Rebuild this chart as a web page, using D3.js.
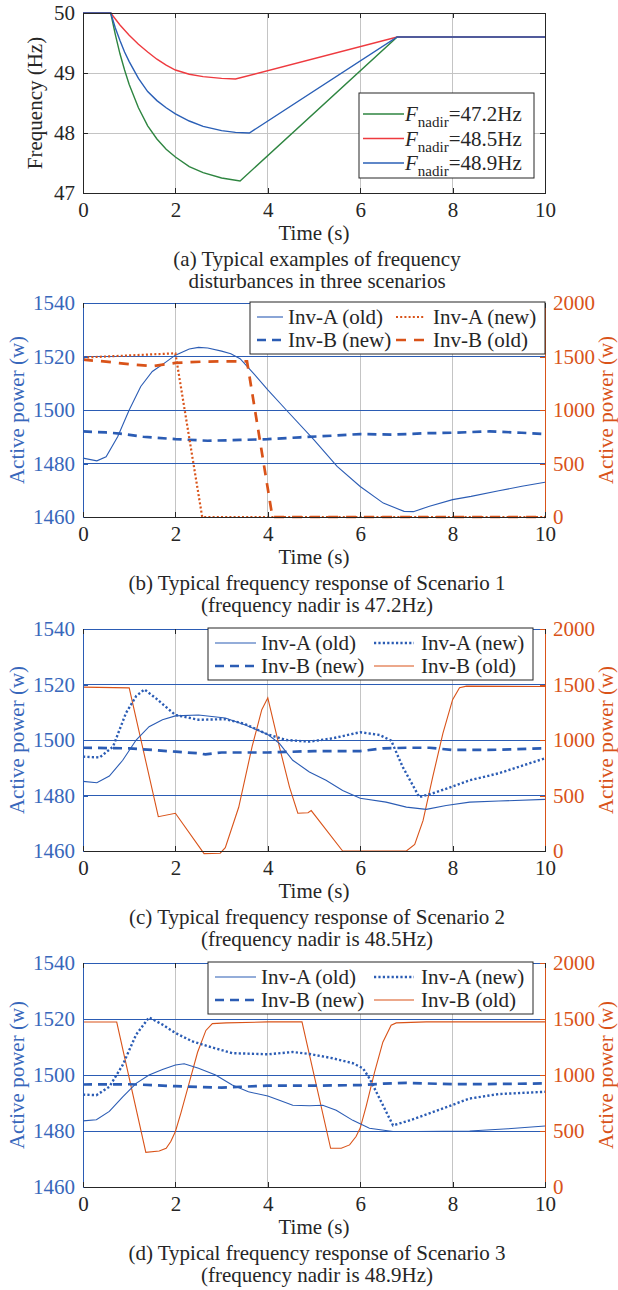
<!DOCTYPE html>
<html>
<head>
<meta charset="utf-8">
<script src="https://cdn.jsdelivr.net/npm/d3@7"></script>
<style>
  body { margin: 0; background: #fff; }
  svg text { font-family: "Times New Roman", "Liberation Serif", Tinos, Times, "DejaVu Serif", serif; }
  .grid, .domain, .tick line { shape-rendering: crispEdges; }
</style>
</head>
<body>
<div id="chart"></div>
<script>
// ---- data ----
const timeTicks = [0, 2, 4, 6, 8, 10];
const freqTicks = [47, 48, 49, 50];
const powerTicks = [1460, 1480, 1500, 1520, 1540];
const rightTicks = [0, 500, 1000, 1500, 2000];

// (a) frequency curves [t, Hz]
const fGreen = [[0,50],[0.6,50],[0.7,49.64],[0.8,49.32],[0.9,49.05],[1.0,48.81],[1.2,48.42],[1.4,48.12],[1.6,47.9],[1.8,47.73],[2.0,47.6],[2.3,47.44],[2.6,47.34],[3.0,47.25],[3.4,47.2],[6.8,49.6],[10,49.6]];
const fRed = [[0,50],[0.6,50],[0.7,49.9],[0.8,49.8],[1.0,49.63],[1.2,49.48],[1.4,49.35],[1.6,49.23],[1.8,49.13],[2.0,49.05],[2.3,48.98],[2.6,48.94],[3.0,48.91],[3.3,48.9],[6.8,49.6],[10,49.6]];
const fBlue = [[0,50],[0.6,50],[0.7,49.75],[0.8,49.54],[0.9,49.35],[1.0,49.19],[1.2,48.91],[1.4,48.69],[1.6,48.54],[1.8,48.42],[2.0,48.32],[2.3,48.2],[2.6,48.11],[3.0,48.04],[3.3,48.01],[3.6,48.0],[6.8,49.6],[10,49.6]];
const fLegend = ["=47.2Hz", "=48.5Hz", "=48.9Hz"];

// (b) scenario 1 [t, W]
const bInvAold = [[0,1482],[0.3,1481],[0.5,1482.5],[0.75,1490],[1.0,1500],[1.25,1508.8],[1.5,1514.4],[1.8,1518],[2.0,1520.5],[2.3,1522.8],[2.5,1523.4],[2.7,1523.2],[3.0,1522],[3.2,1521],[3.4,1519.2],[3.7,1513.5],[4.0,1507.5],[4.4,1500],[5.0,1488.8],[5.5,1478.9],[6.0,1471.4],[6.5,1465.2],[6.95,1462.1],[7.15,1462],[7.5,1464],[8.0,1466.5],[8.4,1467.7],[9.0,1469.8],[9.5,1471.5],[10,1473]];
const bInvBnew = [[0,1492],[0.5,1491.6],[0.8,1491.2],[1.3,1490],[2,1489.1],[2.7,1488.5],[3.4,1488.8],[4,1489.1],[4.7,1489.8],[5.4,1490.4],[6,1491],[6.7,1490.8],[7.4,1491.3],[8,1491.5],[8.8,1492],[9.5,1491.5],[10,1491]];
const bInvAnew = [[0,1490],[1,1510],[2,1530],[2.58,0],[10,0]];
const bInvBold = [[0,1470],[0.5,1452],[1,1428],[1.5,1410],[2,1440],[2.6,1452],[3,1455],[3.55,1455],[4.1,0],[10,0]];

// (c) scenario 2
const cInvAold = [[0,1485.1],[0.3,1484.6],[0.57,1487],[0.86,1492.7],[1.15,1500],[1.43,1504.8],[1.72,1507.3],[2,1508.7],[2.5,1509],[3.08,1507.9],[3.5,1505.5],[4,1502],[4.25,1498.8],[4.54,1492.7],[4.9,1488.5],[5.26,1485.5],[5.62,1481.8],[6,1479],[6.56,1477.6],[7,1475.8],[7.43,1475],[7.86,1476.4],[8.37,1477.6],[9,1478],[10,1478.6]];
const cInvAnew = [[0,1494],[0.36,1493.7],[0.65,1497.6],[0.93,1509.7],[1.15,1515.8],[1.33,1518.2],[1.58,1515],[2,1509],[2.5,1507.3],[3.08,1507.5],[3.5,1505.8],[4,1502],[4.4,1500],[4.9,1499.4],[5.4,1500.6],[6,1502.8],[6.42,1501.8],[6.67,1499.8],[6.92,1490.3],[7.28,1479.4],[7.65,1481.2],[8.37,1485.5],[9,1488],[10,1493.4]];
const cInvBnew = [[0,1497.2],[1,1497],[1.5,1496.4],[2,1495.8],[2.5,1495.2],[2.65,1494.8],[3,1495.5],[4,1495.5],[5,1496],[6,1496],[6.5,1497],[7,1497.2],[7.5,1497.2],[8,1496.4],[9,1496.5],[10,1497]];
const cInvBold = [[0,1476],[1.0,1470],[1.63,309],[2.0,340],[2.62,-24],[2.97,-20],[3.08,30],[3.37,394],[3.66,940],[3.87,1273],[4.0,1380],[4.25,940],[4.47,576],[4.65,340],[4.87,345],[4.94,364],[5.62,0],[7.0,0],[7.18,60],[7.36,273],[7.57,667],[7.79,1060],[8.0,1364],[8.15,1470],[8.3,1485],[10,1482]];

// (d) scenario 3
const dInvAold = [[0,1483.6],[0.29,1484],[0.57,1487],[0.86,1492.2],[1.15,1497],[1.43,1500],[1.72,1502],[2,1503.6],[2.19,1504],[2.5,1502.4],[2.87,1500],[3.23,1496.4],[3.58,1494],[4,1492.5],[4.25,1491],[4.54,1489.2],[4.9,1489],[5.19,1489.2],[5.48,1487.4],[5.84,1483.8],[6.2,1481],[6.71,1479.8],[7.22,1479.8],[8.37,1480],[9.2,1480.8],[10,1481.8]];
const dInvAnew = [[0,1493],[0.29,1492.8],[0.57,1495.8],[0.86,1503.6],[1.15,1514.4],[1.43,1520.6],[1.72,1518],[2,1515],[2.37,1512],[2.72,1510.2],[3.23,1507.8],[4,1507.4],[4.54,1508.2],[4.9,1507.5],[5.4,1506],[5.84,1504.2],[6.06,1502.4],[6.2,1498.8],[6.42,1491.6],[6.71,1482],[7.07,1483.8],[7.58,1486.8],[8.37,1491.6],[9,1493.2],[10,1494]];
const dInvBnew = [[0,1496.6],[1,1496.7],[1.5,1496.4],[2,1496],[3,1495.5],[4,1496.2],[5,1496.2],[6,1496.4],[6.5,1496.9],[7,1497.2],[8,1496.7],[9,1496.8],[10,1497]];
const dInvBold = [[0,1473],[0.73,1473],[1.36,310],[1.65,322],[1.8,346],[1.9,406],[2.0,496],[2.12,662],[2.3,932],[2.48,1203],[2.66,1398],[2.8,1459],[3.1,1465],[4,1474],[4.74,1474],[5.36,346],[5.59,346],[5.77,376],[5.91,451],[6.0,526],[6.13,722],[6.31,1023],[6.49,1293],[6.67,1444],[6.78,1465],[7.43,1474],[10,1474]];

const captions = [
  ["(a) Typical examples of frequency", "disturbances in three scenarios"],
  ["(b) Typical frequency response of Scenario 1", "(frequency nadir is 47.2Hz)"],
  ["(c) Typical frequency response of Scenario 2", "(frequency nadir is 48.5Hz)"],
  ["(d) Typical frequency response of Scenario 3", "(frequency nadir is 48.9Hz)"]
];

// ---- styles ----
const BLUE = "#2b5cb4", BLUE_TXT = "#3867bb", ORANGE = "#d95319", DARK = "#262626", GRID = "#c4c4c4";
const FONT = '"Times New Roman", "Liberation Serif", Tinos, Times, "DejaVu Serif", serif';
const FS = 21;
const sty = {
  solidBlue:   {c: BLUE, w: 1.1, d: null},
  dashBlue:    {c: BLUE, w: 2.7, d: "9,6"},
  dotBlue:     {c: BLUE, w: 2.4, d: "2.2,2.2"},
  dotOrange:   {c: ORANGE, w: 2.2, d: "2,2.2"},
  dashOrange:  {c: ORANGE, w: 2.7, d: "10,8"},
  solidOrange: {c: ORANGE, w: 1.1, d: null}
};

const W = 618, H = 1290;
const svg = d3.select("#chart").append("svg").attr("width", W).attr("height", H)
  .attr("font-family", FONT);
const x = d3.scaleLinear().domain([0, 10]).range([83, 545]);

function strokeIt(sel, s) {
  sel.attr("fill", "none").attr("stroke", s.c).attr("stroke-width", s.w);
  if (s.d) sel.attr("stroke-dasharray", s.d);
  return sel;
}

function styleTicks(a, col, txtCol) {
  a.selectAll(".tick line").attr("stroke", col);
  a.selectAll("text").attr("font-size", FS).attr("fill", txtCol).attr("font-family", FONT);
}

function xAxisAndCaption(g, bottom, top, cap) {
  g.append("g").attr("transform", `translate(0,${bottom})`)
    .call(d3.axisBottom(x).tickValues(timeTicks).tickSize(-5).tickSizeOuter(0).tickPadding(9))
    .attr("font-family", FONT)
    .call(a => a.select(".domain").attr("stroke", DARK))
    .call(a => styleTicks(a, DARK, DARK));
  g.append("g").attr("transform", `translate(0,${top})`)
    .call(d3.axisTop(x).tickValues(timeTicks).tickSize(-5).tickSizeOuter(0).tickFormat(""))
    .call(a => a.select(".domain").remove())
    .call(a => a.selectAll(".tick line").attr("stroke", DARK));
  g.append("text").attr("x", 314).attr("y", bottom + 47).attr("text-anchor", "middle")
    .attr("font-size", FS).attr("fill", DARK).text("Time (s)");
  cap.forEach((c, i) => g.append("text").attr("x", 317).attr("y", bottom + 73 + i * 22)
    .attr("text-anchor", "middle").attr("font-size", FS).attr("fill", DARK).text(c));
}

// ---- panel (a) ----
(function () {
  const top = 13, bottom = 193;
  const y = d3.scaleLinear().domain([47, 50]).range([bottom, top]);
  const g = svg.append("g");
  g.selectAll(".vg").data(timeTicks.slice(1, -1)).join("line").attr("class", "vg grid")
    .attr("x1", d => x(d)).attr("x2", d => x(d)).attr("y1", top).attr("y2", bottom)
    .attr("stroke", GRID).attr("stroke-width", 1);
  g.selectAll(".hg").data([48, 49]).join("line").attr("class", "hg grid")
    .attr("x1", x(0)).attr("x2", x(10)).attr("y1", d => y(d)).attr("y2", d => y(d))
    .attr("stroke", GRID).attr("stroke-width", 1);
  const line = d3.line().x(d => x(d[0])).y(d => y(d[1]));
  const cols = ["#2e8540", "#ee3a3f", "#2a5fb6"];
  [fGreen, fRed, fBlue].forEach((s, i) =>
    g.append("path").datum(s).attr("d", line).attr("fill", "none").attr("stroke", cols[i]).attr("stroke-width", 1.4));
  g.append("g").attr("transform", `translate(${x(0)},0)`)
    .call(d3.axisLeft(y).tickValues(freqTicks).tickSize(-5).tickSizeOuter(0).tickPadding(8).tickFormat(d3.format("d")))
    .attr("font-family", FONT)
    .call(a => a.select(".domain").attr("stroke", DARK))
    .call(a => styleTicks(a, DARK, DARK));
  g.append("g").attr("transform", `translate(${x(10)},0)`)
    .call(d3.axisRight(y).tickValues(freqTicks).tickSize(-5).tickSizeOuter(0).tickFormat(""))
    .call(a => a.select(".domain").attr("stroke", DARK))
    .call(a => a.selectAll(".tick line").attr("stroke", DARK));
  g.append("line").attr("class", "grid").attr("x1", x(0)).attr("x2", x(10)).attr("y1", top).attr("y2", top).attr("stroke", DARK);
  xAxisAndCaption(g, bottom, top, captions[0]);
  g.append("text").attr("transform", `translate(35,${(top + bottom) / 2}) rotate(-90)`)
    .attr("dy", "0.35em").attr("text-anchor", "middle").attr("font-size", FS).attr("fill", DARK)
    .text("Frequency (Hz)");
  // legend
  const lg = g.append("g");
  lg.append("rect").attr("x", 359).attr("y", 93).attr("width", 175).attr("height", 85)
    .attr("fill", "#fff").attr("stroke", DARK).attr("stroke-width", 1);
  fLegend.forEach((t, i) => {
    const cy = 114 + i * 24.5;
    lg.append("line").attr("x1", 363).attr("x2", 404).attr("y1", cy).attr("y2", cy)
      .attr("stroke", cols[i]).attr("stroke-width", 1.4);
    const tx = lg.append("text").attr("x", 405).attr("y", cy + 7).attr("font-size", FS).attr("fill", DARK);
    tx.append("tspan").attr("font-style", "italic").text("F");
    tx.append("tspan").attr("font-size", 15).attr("dy", 6).text("nadir");
    tx.append("tspan").attr("dy", -6).text(t);
  });
})();

// ---- dual-axis power panels ----
const legendB = {x: 250, w: 295, cols: [[257, 283, 288], [396, 425, 433]]};
const legendCD = {x: 208, w: 325, cols: [[215, 256, 261], [374, 414, 421]]};

const panels = [
  {top: 303, bottom: 517, cap: captions[1], lg: legendB,
   series: [
     {data: bInvAold, s: "solidBlue", right: false},
     {data: bInvBnew, s: "dashBlue", right: false},
     {data: bInvAnew, s: "dotOrange", right: true},
     {data: bInvBold, s: "dashOrange", right: true}],
   items: [["Inv-A (old)", "solidBlue", 0, 0], ["Inv-A (new)", "dotOrange", 1, 0],
           ["Inv-B (new)", "dashBlue", 0, 1], ["Inv-B (old)", "dashOrange", 1, 1]]},
  {top: 629, bottom: 851, cap: captions[2], lg: legendCD,
   series: [
     {data: cInvBold, s: "solidOrange", right: true},
     {data: cInvAold, s: "solidBlue", right: false},
     {data: cInvAnew, s: "dotBlue", right: false},
     {data: cInvBnew, s: "dashBlue", right: false}],
   items: [["Inv-A (old)", "solidBlue", 0, 0], ["Inv-A (new)", "dotBlue", 1, 0],
           ["Inv-B (new)", "dashBlue", 0, 1], ["Inv-B (old)", "solidOrange", 1, 1]]},
  {top: 963, bottom: 1187, cap: captions[3], lg: legendCD,
   series: [
     {data: dInvBold, s: "solidOrange", right: true},
     {data: dInvAold, s: "solidBlue", right: false},
     {data: dInvAnew, s: "dotBlue", right: false},
     {data: dInvBnew, s: "dashBlue", right: false}],
   items: [["Inv-A (old)", "solidBlue", 0, 0], ["Inv-A (new)", "dotBlue", 1, 0],
           ["Inv-B (new)", "dashBlue", 0, 1], ["Inv-B (old)", "solidOrange", 1, 1]]}
];

panels.forEach(p => {
  const yL = d3.scaleLinear().domain([1460, 1540]).range([p.bottom, p.top]);
  const yR = d3.scaleLinear().domain([0, 2000]).range([p.bottom, p.top]);
  const g = svg.append("g");
  g.selectAll(".vg").data(timeTicks.slice(1, -1)).join("line").attr("class", "vg grid")
    .attr("x1", d => x(d)).attr("x2", d => x(d)).attr("y1", p.top).attr("y2", p.bottom)
    .attr("stroke", GRID).attr("stroke-width", 1);
  g.selectAll(".hg").data(powerTicks.slice(1)).join("line").attr("class", "hg grid")
    .attr("x1", x(0)).attr("x2", x(10)).attr("y1", d => yL(d)).attr("y2", d => yL(d))
    .attr("stroke", BLUE).attr("stroke-width", 1);

  p.series.forEach(s => {
    const yy = s.right ? yR : yL;
    const line = d3.line().x(d => x(d[0])).y(d => yy(d[1]));
    strokeIt(g.append("path").datum(s.data).attr("d", line), sty[s.s]);
  });

  g.append("g").attr("transform", `translate(${x(0)},0)`)
    .call(d3.axisLeft(yL).tickValues(powerTicks).tickSize(-5).tickSizeOuter(0).tickPadding(8).tickFormat(d3.format("d")))
    .attr("font-family", FONT)
    .call(a => a.select(".domain").attr("stroke", BLUE))
    .call(a => styleTicks(a, BLUE, BLUE_TXT));
  g.append("g").attr("transform", `translate(${x(10)},0)`)
    .call(d3.axisRight(yR).tickValues(rightTicks).tickSize(-5).tickSizeOuter(0).tickPadding(8).tickFormat(d3.format("d")))
    .attr("font-family", FONT)
    .call(a => a.select(".domain").attr("stroke", ORANGE))
    .call(a => styleTicks(a, ORANGE, ORANGE));
  xAxisAndCaption(g, p.bottom, p.top, p.cap);

  const mid = (p.top + p.bottom) / 2;
  g.append("text").attr("transform", `translate(17,${mid}) rotate(-90)`)
    .attr("dy", "0.35em").attr("text-anchor", "middle").attr("font-size", FS).attr("fill", BLUE_TXT)
    .text("Active power (w)");
  g.append("text").attr("transform", `translate(606,${mid}) rotate(-90)`)
    .attr("dy", "0.35em").attr("text-anchor", "middle").attr("font-size", FS).attr("fill", ORANGE)
    .text("Active power (w)");

  // legend
  const ly = p.top - 1;
  const lg = g.append("g");
  lg.append("rect").attr("x", p.lg.x).attr("y", ly).attr("width", p.lg.w).attr("height", 52)
    .attr("fill", "#fff").attr("stroke", DARK).attr("stroke-width", 1);
  p.items.forEach(([label, st, col, row]) => {
    const c = p.lg.cols[col];
    const cy = ly + 15 + row * 23;
    strokeIt(lg.append("line").attr("x1", c[0]).attr("x2", c[1]).attr("y1", cy).attr("y2", cy), sty[st]);
    lg.append("text").attr("x", c[2]).attr("y", cy + 7).attr("font-size", FS).attr("fill", DARK).text(label);
  });
});
</script>
</body>
</html>
